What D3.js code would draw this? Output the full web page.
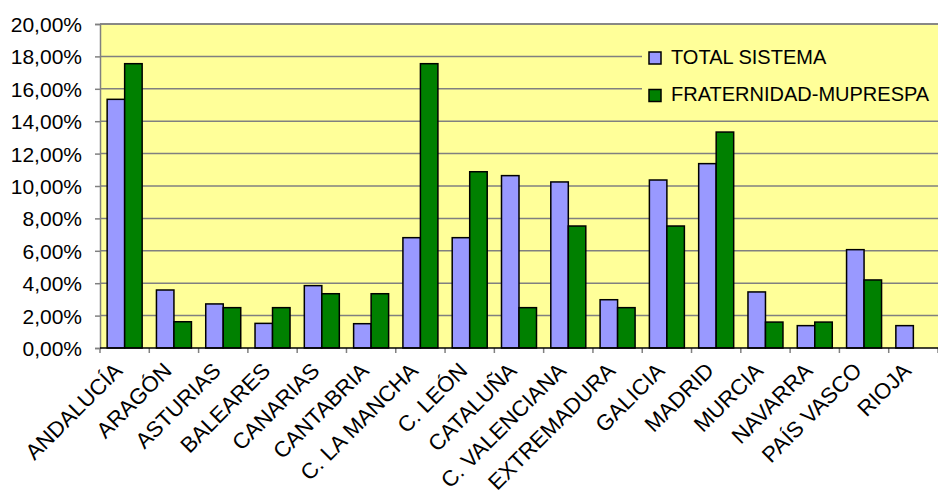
<!DOCTYPE html>
<html>
<head>
<meta charset="utf-8">
<script src="https://cdn.jsdelivr.net/npm/d3@7"></script>
<style>
html,body{margin:0;padding:0;background:#fff;}
svg{display:block;font-family:"Liberation Sans",Arial,sans-serif;}
</style>
</head>
<body>
<svg id="chart" width="938" height="491"></svg>
<script>
const categories = ["ANDALUCÍA","ARAGÓN","ASTURIAS","BALEARES","CANARIAS","CANTABRIA","C. LA MANCHA","C. LEÓN","CATALUÑA","C. VALENCIANA","EXTREMADURA","GALICIA","MADRID","MURCIA","NAVARRA","PAÍS VASCO","RIOJA"];
const totalSistema = [15.35, 3.58, 2.72, 1.52, 3.85, 1.50, 6.81, 6.81, 10.64, 10.25, 2.98, 10.37, 11.38, 3.46, 1.38, 6.07, 1.38];
const fraternidad = [17.55, 1.62, 2.49, 2.49, 3.35, 3.35, 17.55, 10.88, 2.49, 7.53, 2.49, 7.53, 13.33, 1.60, 1.60, 4.20, 0];
const seriesNames = ["TOTAL SISTEMA","FRATERNIDAD-MUPRESPA"];
const yTicks = [0,2,4,6,8,10,12,14,16,18,20];

const colors = ["#9999FF","#008000"];
const svg = d3.select("#chart");
const L = 100, R = 938, T = 24, B = 348;

const x = d3.scaleBand().domain(categories).range([L, R]).paddingInner(0).paddingOuter(0);
const y = d3.scaleLinear().domain([0,20]).range([B, T]);
const bw = x.bandwidth();
const barW = bw * 0.355;
const off = (bw - 2*barW)/2;

// plot background
svg.append("rect").attr("x",L).attr("y",T).attr("width",R-L).attr("height",B-T).attr("fill","#FFFF99");

// gridlines
svg.append("g").selectAll("line").data(yTicks.filter(d=>d>0)).join("line")
  .attr("x1",L).attr("x2",R).attr("y1",d=>y(d)).attr("y2",d=>y(d))
  .attr("stroke","#808080").attr("stroke-width",1.5);

// legend background (covers gridlines)
svg.append("rect").attr("x",642).attr("y",32).attr("width",R-642).attr("height",82).attr("fill","#FFFF99");

// bars
const data = [totalSistema, fraternidad];
data.forEach((vals, si) => {
  svg.append("g").selectAll("rect").data(categories.map((c,i)=>({c,v:vals[i]})).filter(d=>d.v>0)).join("rect")
    .attr("x", d => x(d.c) + off + si*barW)
    .attr("y", d => y(d.v))
    .attr("width", barW)
    .attr("height", d => y(0) - y(d.v))
    .attr("fill", colors[si])
    .attr("stroke","#000").attr("stroke-width",1.5);
});

// y axis
const yAxis = d3.axisLeft(y).tickValues(yTicks).tickSize(5).tickPadding(13)
  .tickFormat(d => d3.format(".2f")(d).replace(".",",") + "%");
const gy = svg.append("g").attr("transform",`translate(${L},0)`).call(yAxis);
gy.select(".domain").attr("stroke","#808080").attr("stroke-width",1.5);
gy.selectAll(".tick line").attr("stroke","#808080").attr("stroke-width",1.5);
gy.selectAll(".tick text").attr("font-size","21px").attr("fill","#000").attr("font-family","'Liberation Sans',Arial,sans-serif").attr("dy","0.36em");

// top border
svg.append("line").attr("x1",L).attr("x2",R).attr("y1",T).attr("y2",T).attr("stroke","#808080").attr("stroke-width",1.5);

// x axis
const boundaries = categories.map(c => x(c)).concat([R]);
svg.append("g").selectAll("line").data(boundaries).join("line")
  .attr("x1",d=>d).attr("x2",d=>d).attr("y1",B).attr("y2",B+5)
  .attr("stroke","#808080").attr("stroke-width",1.5);
svg.append("line").attr("x1",L).attr("x2",R).attr("y1",B).attr("y2",B).attr("stroke","#000").attr("stroke-width",1.5);

svg.append("g").selectAll("text").data(categories).join("text")
  .attr("transform", d => `translate(${x(d)+bw/2-1},${B+24}) rotate(-45)`)
  .attr("text-anchor","end")
  .attr("font-size","22px")
  .attr("fill","#000")
  .text(d=>d);

// legend
const leg = svg.append("g");
seriesNames.forEach((n,i) => {
  const yy = 52 + i*37.5;
  leg.append("rect").attr("x",649).attr("y",yy).attr("width",12).attr("height",12)
    .attr("fill",colors[i]).attr("stroke","#000").attr("stroke-width",1.5);
  leg.append("text").attr("x",671).attr("y",yy+11.5).attr("font-size","20px").attr("fill","#000").text(n);
});
</script>
</body>
</html>
